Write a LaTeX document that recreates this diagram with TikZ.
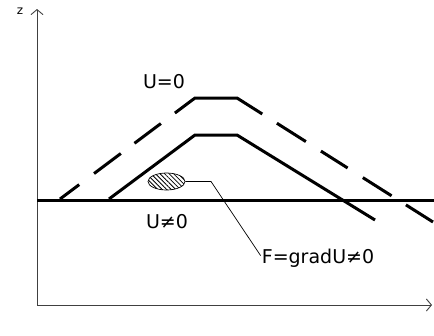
\documentclass[tikz,border=0pt]{standalone}
\usepackage{fontspec}
\setmainfont{DejaVu Sans}
\usetikzlibrary{arrows.meta,patterns.meta,shapes.geometric}
\begin{document}
\begin{tikzpicture}[x=1pt,y=-1pt,
  axis/.style={line width=0.9pt,draw=black!75,-{Straight Barb[length=5pt,width=12pt]}},
  thickline/.style={line width=3pt,line join=miter},
  dashline/.style={line width=3pt,line join=miter,
    dash pattern=on 24pt off 18.5pt on 33.5pt off 17pt on 33pt off 17.5pt on 97pt off 17.3pt on 34.3pt off 17.8pt on 31.6pt off 18pt on 34pt off 17pt on 40pt},
  lbl/.style={font=\fontsize{19}{20}\selectfont,inner sep=0pt},
  leader/.style={line width=0.7pt}]
\useasboundingbox (0,0) rectangle (434,335);
% axes
\coordinate (O) at (37,305);
\coordinate (zt) at (37,9);
\coordinate (xt) at (432,305);
\draw[axis] (O) -- (zt);
\draw[axis] (O) -- (xt);
\node[inner sep=0pt,font=\fontsize{12}{12}\selectfont] (zlab) at (20,11) {z};
% ground line
\draw[thickline] (37,200) -- (434,200);
% dashed U=0 profile
\draw[dashline] (60,199) -- (195,98) -- (237,98) -- (433,222);
% solid profile
\draw[thickline] (109,199) -- (195,135) -- (237,135) -- (375,220);
% labels
\node[lbl] (u0) at (164,82) {U=0};
\node[lbl] (un0) at (167,222) {U≠0};
\node[lbl] (flab) at (318,258) {F=gradU≠0};
% hatched ellipse
\node[ellipse,draw,line width=0.7pt,minimum width=37pt,minimum height=17pt,inner sep=0pt,
  pattern={Lines[angle=-45,distance=3.2pt,line width=0.8pt]}] (ell) at (166.5,181.5) {};
\coordinate (bend) at (211,181.5);
\draw[leader] (ell.east) -- (bend) -- ([xshift=-1pt,yshift=-7pt]flab.north west);
\end{tikzpicture}
\end{document}
